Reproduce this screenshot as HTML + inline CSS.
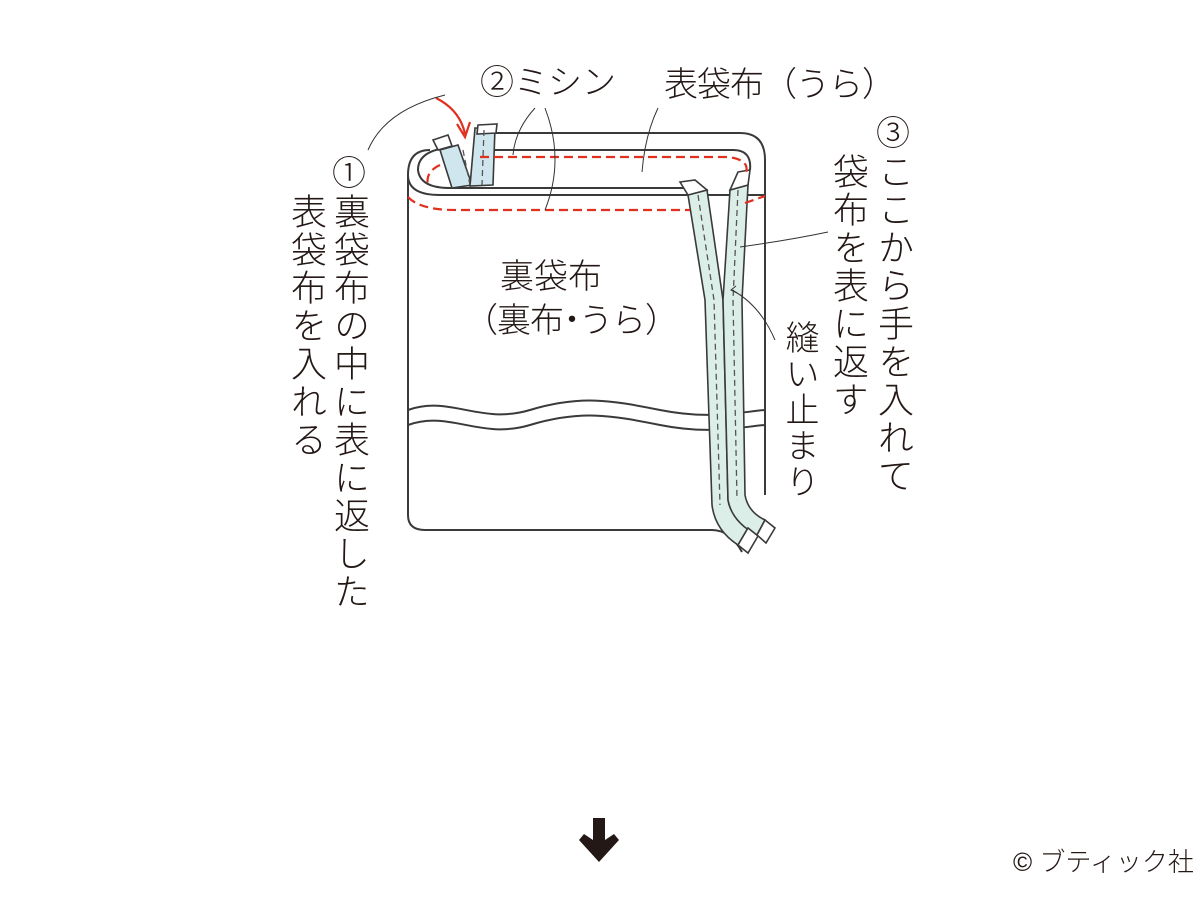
<!DOCTYPE html>
<html><head><meta charset="utf-8"><style>
html,body{margin:0;padding:0;background:#fff;}
body{width:1200px;height:900px;position:relative;overflow:hidden;font-family:"Liberation Sans","Noto Sans CJK JP",sans-serif;color:#231815;}
.t{position:absolute;white-space:nowrap;line-height:1;font-weight:300;}
.v{writing-mode:vertical-rl;text-orientation:upright;font-size:36px;letter-spacing:2px;}
svg{position:absolute;left:0;top:0;}
</style></head><body>
<svg width="1200" height="900" viewBox="0 0 1200 900">
<g fill="none" stroke="#3a3a3a" stroke-width="2">
 <path d="M408 175 L408 515 Q408 530 425 530 L712 530 Q730 530 742 552" fill="#fff"/>
 <path d="M765 175 L765 495"/>
 <path d="M408 410 C450 395 480 425 530 410 S 610 400 660 410 S 740 412 765 410"/>
 <path d="M408 425 C450 410 480 440 530 425 S 610 415 660 425 S 740 427 765 425"/>
 <path d="M430 150 Q408 150 408 175 Q408 195 440 195 L765 195" fill="#fff"/>
 <path d="M480 133 L740 133 Q765 133 765 160 L765 195"/>
 <path d="M445 148 Q418 152 418 170 Q420 188 450 188 L690 188"/>
 <path d="M490 150 L733 150 Q752 150 750 170"/>
</g>
<g stroke="#3a3a3a" stroke-width="1.6" fill="#cfe6ee">
 <path d="M440 150 L458 145 L472 185 L452 188 Z"/>
 <path d="M475 128 L495 128 L493 185 L470 186 Z"/>
 <path d="M433 140 L448 135 L452 146 L438 150 Z" fill="#fff"/>
 <path d="M478 125 L497 124 L496 133 L477 134 Z" fill="#fff"/>
</g>
<g stroke="#3a3a3a" stroke-width="1.6" fill="#dceee8">
 <path d="M688 195 L707 190 L723 300 L728 500 Q730 515 748 528 L738 545 Q715 530 712 505 L705 300 Z"/>
 <path d="M730 190 L748 185 L742 300 L745 495 Q748 512 765 520 L757 535 Q732 522 728 500 L723 300 Z"/>
 <path d="M680 182 L695 180 L707 190 L688 195 Z" fill="#fff"/>
 <path d="M738 172 L750 170 L748 185 L730 190 Z" fill="#fff"/>
 <path d="M738 545 L748 528 L758 536 L748 553 Z" fill="#fff"/>
 <path d="M757 535 L765 520 L775 528 L766 543 Z" fill="#fff"/>
</g>
<g stroke="#555" stroke-width="1.3" stroke-dasharray="6 4" fill="none">
 <path d="M463 150 L470 185"/><path d="M484 130 L482 185"/>
 <path d="M698 195 L714 300 L720 505"/><path d="M738 190 L733 300 L737 500"/>
</g>
<g stroke="#e0301e" stroke-width="2.2" stroke-dasharray="9 5" fill="none">
 <path d="M480 157 L728 157 Q752 160 745 175"/>
 <path d="M440 165 Q425 172 428 185"/>
 <path d="M408 197 Q420 210 455 210 L690 210"/>
 <path d="M745 203 L765 196"/>
</g>
<path d="M436 98 Q460 110 465 134" stroke="#e0301e" stroke-width="2.2" fill="none"/>
<path d="M457 124 L465 137 L470 122" stroke="#e0301e" stroke-width="2.2" fill="none"/>
<g stroke="#333" stroke-width="1" fill="none">
 <path d="M368 150 Q385 110 445 95"/>
 <path d="M535 108 Q515 130 513 155"/>
 <path d="M545 108 Q565 160 545 210"/>
 <path d="M658 108 Q645 135 642 172"/>
 <path d="M740 247 Q790 240 828 232"/>
 <path d="M775 340 Q760 305 732 290"/>
 <path d="M736 286 L731 290 L737 293"/>
</g>
<path d="M593 818 L605 818 L605 840 L614 834 L619 840 L599 862 L579 840 L584 834 L593 840 Z" fill="#231815"/>
</svg>

<div class="t" style="left:480px;top:66px;font-size:34px;">②ミシン</div>
<div class="t" style="left:664px;top:68px;font-size:34px;letter-spacing:-1px;">表袋布（うら）</div>
<div class="t" style="left:500px;top:260px;font-size:34px;">裏袋布</div>
<div class="t" style="left:464px;top:304px;font-size:34px;letter-spacing:-1px;">（裏布<span style="letter-spacing:-10px;margin-left:-8px">・</span>うら）</div>

<div class="t" style="left:332px;top:157px;font-size:34px;">①</div>
<div class="t v" style="left:331px;top:193px;">裏袋布の中に表に返した</div>
<div class="t v" style="left:288px;top:193px;">表袋布を入れる</div>

<div class="t" style="left:876px;top:117px;font-size:34px;">③</div>
<div class="t v" style="left:875px;top:153px;">ここから手を入れて</div>
<div class="t v" style="left:830px;top:153px;">袋布を表に返す</div>
<div class="t v" style="left:782px;top:320px;font-size:34px;">縫い止まり</div>

<div class="t" style="left:1013px;top:849px;font-size:26px;">© ブティック社</div>
</body></html>
